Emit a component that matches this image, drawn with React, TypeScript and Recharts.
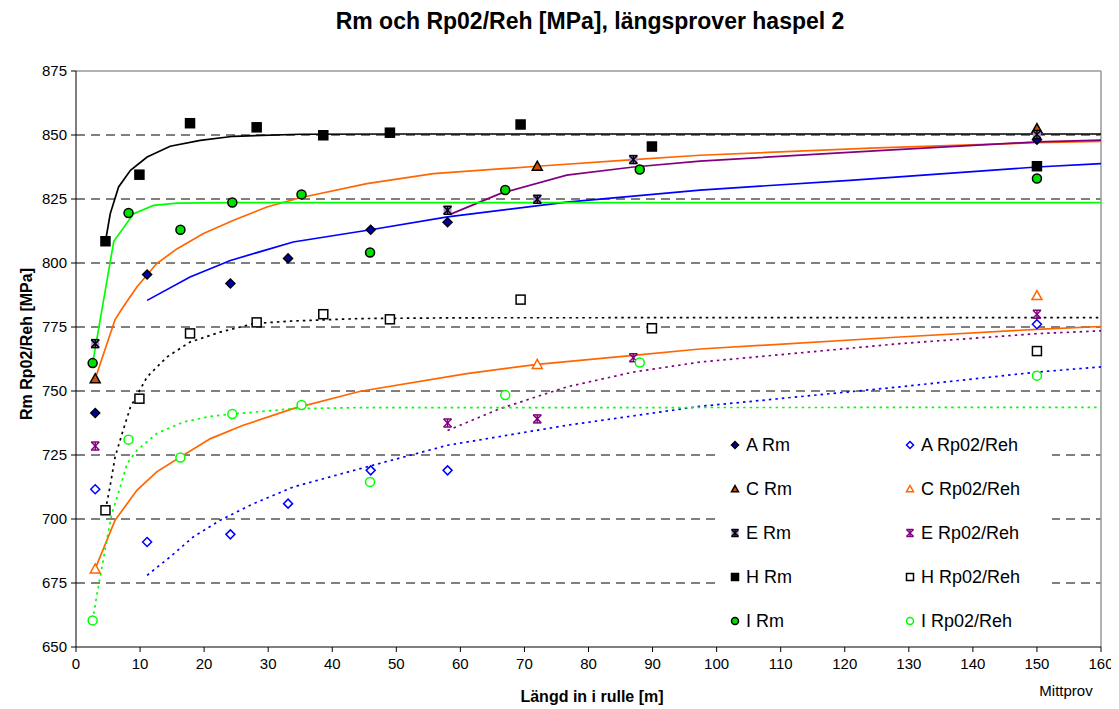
import React from "react";
import {
  ScatterChart,
  Scatter,
  XAxis,
  YAxis,
  CartesianGrid,
  ReferenceLine,
} from "recharts";

// measured positions along the coil [m], 150 = mid sample
const aX = [3, 11.1, 24.1, 33.1, 46, 58, 150];
const aRm = [741.4, 795.5, 792, 801.8, 813, 815.9, 848.2];
const aRp = [711.6, 691, 694, 706, 719, 719, 776.1];

const cX = [3, 72, 150];
const cRm = [754.8, 837.8, 852.5];
const cRp = [680.5, 760.4, 787.3];

const eX = [3, 58, 72, 87, 150];
const eRm = [768.5, 820.6, 824.9, 840.4, 850.2];
const eRp = [728.5, 737.5, 739.1, 763, 780];

const hX = [4.6, 9.9, 17.8, 28.2, 38.6, 49, 69.4, 89.9, 150];
const hRm = [808.5, 834.5, 854.6, 853, 849.9, 850.9, 854.1, 845.5, 837.8];
const hRp = [703.4, 747, 772.5, 776.8, 780, 778, 785.7, 774.5, 765.6];

const iX = [2.6, 8.2, 16.3, 24.4, 35.2, 45.9, 67, 88, 150];
const iRm = [760.9, 819.5, 813, 823.6, 826.8, 804.1, 828.5, 836.5, 833];
const iRp = [660.4, 731, 724, 741, 744.5, 714.5, 748.4, 761.1, 756];

// trend lines
const hRmTrendX = [4.6, 5.35, 6.65, 8.5, 11.1, 14.7, 19.4, 24.6, 35, 50, 160];
const hRmTrend = [808.5, 819.3, 829.7, 836.2, 841.4, 845.6, 847.9, 849.5, 850.3, 850.4, 850.4];
const iRmTrendX = [2.6, 5.9, 9, 12.1, 15.8, 24.4, 160];
const iRmTrend = [760.9, 808.5, 819.3, 822.5, 823.4, 823.6, 823.6];
const cRmTrendX = [3, 6.1, 7.2, 9.5, 12.6, 15.8, 19.9, 24.6, 29.8, 35, 45.4, 55.8, 72, 87, 97.4, 125, 150, 160];
const cRmTrend = [754.8, 777.9, 782.2, 790.6, 799.8, 805.6, 811.5, 816.7, 821.9, 825.5, 831, 834.9, 837.8, 840.4, 842.1, 845, 847, 847.5];
const eRmTrendX = [58.4, 66.2, 76.6, 87, 97.4, 126, 150, 160];
const eRmTrend = [819, 827.1, 834.3, 837.5, 839.8, 844, 847.3, 848];
const aRmTrendX = [11.1, 17.8, 24.1, 33.9, 46, 58, 76.6, 97.4, 120.8, 150, 160];
const aRmTrend = [785.4, 794.5, 801, 808.2, 813, 818, 823.8, 828.5, 832.3, 837.5, 838.8];

const hRpTrendX = [4.6, 5.3, 6.1, 7.2, 8.5, 11.1, 14.2, 17.8, 22.5, 27.7, 33.3, 44.4, 60, 160];
const hRpTrend = [703.4, 712.5, 724.2, 733.4, 743.7, 755.5, 763.3, 769.1, 773, 776.3, 777.3, 778.3, 778.6, 778.7];
const iRpTrendX = [2.6, 3.3, 4.05, 4.8, 5.6, 6.9, 7.96, 9.5, 12.6, 16.8, 21, 24.4, 33.9, 44.4, 160];
const iRpTrend = [660.4, 670.9, 681.2, 691.7, 702.1, 712.5, 721.6, 726.8, 733.4, 737.9, 740.1, 741, 743.1, 743.5, 743.6];
const cRpTrendX = [3, 6.1, 9.5, 12.6, 16.3, 21, 26.1, 33.9, 44.4, 61, 72, 87, 97.4, 128.6, 150, 160];
const cRpTrend = [680.5, 699.5, 711.2, 718.4, 724.2, 731.4, 736.6, 743.1, 749.9, 756.8, 760.4, 763.9, 766.4, 771.1, 774.1, 775.2];
const eRpTrendX = [58, 66.2, 76.6, 87, 97.4, 128.6, 150, 160];
const eRpTrend = [734.6, 743.1, 751.6, 757.4, 761.3, 768.5, 772.4, 773.5];
const aRpTrendX = [11.1, 14.7, 18.3, 22.5, 27.7, 33.9, 44.4, 58, 76.6, 97.4, 128.6, 150, 160];
const aRpTrend = [678, 685.2, 693, 699.5, 706, 712.5, 719.7, 728.8, 736.6, 744, 751.6, 757.4, 759.4];

const xTicks = [0, 10, 20, 30, 40, 50, 60, 70, 80, 90, 100, 110, 120, 130, 140, 150, 160];
const yTicks = [650, 675, 700, 725, 750, 775, 800, 825, 850, 875];
const gridValues = [675, 700, 725, 750, 775, 800, 825, 850];

const pts = (xs: number[], ys: number[]) => xs.map((x, i) => ({ x, y: ys[i] }));

const FONT = '"Liberation Sans", Arial, sans-serif';

// marker shapes
const Diamond = ({ cx, cy, fill, stroke, r = 4.5 }: any) => (
  <path
    d={`M${cx},${cy - r}L${cx + r},${cy}L${cx},${cy + r}L${cx - r},${cy}Z`}
    fill={fill}
    stroke={stroke}
    strokeWidth={1.5}
  />
);
const Triangle = ({ cx, cy, fill, stroke, r = 5 }: any) => (
  <path
    d={`M${cx},${cy - r}L${cx + r},${cy + r * 0.8}L${cx - r},${cy + r * 0.8}Z`}
    fill={fill}
    stroke={stroke}
    strokeWidth={1.5}
  />
);
const Square = ({ cx, cy, fill, stroke, r = 4.5 }: any) => (
  <rect x={cx - r} y={cy - r} width={r * 2} height={r * 2} fill={fill} stroke={stroke} strokeWidth={1.5} />
);
const Circle = ({ cx, cy, fill, stroke, r = 4.5 }: any) => (
  <circle cx={cx} cy={cy} r={r} fill={fill} stroke={stroke} strokeWidth={1.5} />
);
const Star = ({ cx, cy, stroke, bg, r = 4 }: any) => (
  <g stroke={stroke} strokeWidth={1.5}>
    {bg && <rect x={cx - r} y={cy - r} width={r * 2} height={r * 2} fill={bg} stroke="none" />}
    <line x1={cx - r} y1={cy - r} x2={cx + r} y2={cy + r} />
    <line x1={cx + r} y1={cy - r} x2={cx - r} y2={cy + r} />
    <line x1={cx} y1={cy - r} x2={cx} y2={cy + r} />
    <line x1={cx - r} y1={cy - r} x2={cx + r} y2={cy - r} />
    <line x1={cx - r} y1={cy + r} x2={cx + r} y2={cy + r} />
  </g>
);

const markers: Record<string, (p: any) => React.ReactElement> = {
  "A Rm": (p) => <Diamond {...p} fill="#0000A0" stroke="#000" />,
  "A Rp02/Reh": (p) => <Diamond {...p} fill="#fff" stroke="#0000FF" />,
  "C Rm": (p) => <Triangle {...p} fill="#D05000" stroke="#000" />,
  "C Rp02/Reh": (p) => <Triangle {...p} fill="#fff" stroke="#FF6600" />,
  "E Rm": (p) => <Star {...p} stroke="#000" bg="#B090E0" />,
  "E Rp02/Reh": (p) => <Star {...p} stroke="#800080" />,
  "H Rm": (p) => <Square {...p} fill="#000" stroke="#000" />,
  "H Rp02/Reh": (p) => <Square {...p} fill="#fff" stroke="#000" />,
  "I Rm": (p) => <Circle {...p} fill="#00E000" stroke="#000" />,
  "I Rp02/Reh": (p) => <Circle {...p} fill="#fff" stroke="#00FF00" />,
};

const pointSeries = [
  { name: "A Rm", data: pts(aX, aRm) },
  { name: "A Rp02/Reh", data: pts(aX, aRp) },
  { name: "C Rm", data: pts(cX, cRm) },
  { name: "C Rp02/Reh", data: pts(cX, cRp) },
  { name: "E Rm", data: pts(eX, eRm) },
  { name: "E Rp02/Reh", data: pts(eX, eRp) },
  { name: "H Rm", data: pts(hX, hRm) },
  { name: "H Rp02/Reh", data: pts(hX, hRp) },
  { name: "I Rm", data: pts(iX, iRm) },
  { name: "I Rp02/Reh", data: pts(iX, iRp) },
];

const DOT = "2.5 4";
const trends = [
  { data: pts(aRmTrendX, aRmTrend), color: "#0000FF" },
  { data: pts(cRmTrendX, cRmTrend), color: "#FF6600" },
  { data: pts(eRmTrendX, eRmTrend), color: "#800080" },
  { data: pts(hRmTrendX, hRmTrend), color: "#000000" },
  { data: pts(iRmTrendX, iRmTrend), color: "#00FF00" },
  { data: pts(aRpTrendX, aRpTrend), color: "#0000FF", dash: DOT },
  { data: pts(cRpTrendX, cRpTrend), color: "#FF6600" },
  { data: pts(eRpTrendX, eRpTrend), color: "#800080", dash: DOT },
  { data: pts(hRpTrendX, hRpTrend), color: "#000000", dash: DOT },
  { data: pts(iRpTrendX, iRpTrend), color: "#00FF00", dash: DOT },
];

const legendRows = [
  ["A Rm", "A Rp02/Reh"],
  ["C Rm", "C Rp02/Reh"],
  ["E Rm", "E Rp02/Reh"],
  ["H Rm", "H Rp02/Reh"],
  ["I Rm", "I Rp02/Reh"],
];

function LegendBox() {
  return (
    <div
      style={{
        position: "absolute",
        left: 710,
        top: 417,
        width: 334,
        height: 220,
        background: "#fff",
        fontFamily: FONT,
        fontSize: 18,
      }}
    >
      {legendRows.map((row, r) =>
        row.map((name, c) => (
          <div
            key={name}
            style={{
              position: "absolute",
              left: c === 0 ? 10 : 185,
              top: 20 + r * 44 - 11,
              height: 22,
              display: "flex",
              alignItems: "center",
              whiteSpace: "nowrap",
            }}
          >
            <svg width={14} height={14} style={{ marginRight: 4 }}>
              {markers[name]({ cx: 7, cy: 7, r: 3.5 })}
            </svg>
            <span>{name}</span>
          </div>
        ))
      )}
    </div>
  );
}

export default function App() {
  return (
    <div style={{ position: "relative", width: 1111, height: 701, fontFamily: FONT }}>
      <ScatterChart width={1111} height={693} margin={{ top: 63, right: 18, bottom: 24, left: 0 }}>
        <CartesianGrid horizontal vertical={false} horizontalValues={gridValues} stroke="#000" strokeDasharray="9 6" />
        <XAxis
          type="number"
          dataKey="x"
          domain={[0, 160]}
          ticks={xTicks}
          interval={0}
          height={30}
          tick={{ fontSize: 15, fill: "#000", fontFamily: FONT }}
          tickSize={5}
          tickMargin={6}
          stroke="#000"
          allowDataOverflow
        />
        <YAxis
          type="number"
          dataKey="y"
          domain={[650, 875]}
          ticks={yTicks}
          interval={0}
          width={68}
          tick={{ fontSize: 15, fill: "#000", fontFamily: FONT }}
          tickSize={5}
          tickMargin={4}
          stroke="#000"
          allowDataOverflow
        />
        <ReferenceLine y={875} stroke="#999" strokeWidth={1.5} />
        <ReferenceLine x={160} stroke="#999" strokeWidth={1.5} />
        {trends.map((t, i) => (
          <Scatter
            key={"t" + i}
            data={t.data}
            line={{ stroke: t.color, strokeWidth: 1.7, strokeDasharray: t.dash }}
            lineType="joint"
            shape={() => <g />}
            isAnimationActive={false}
            legendType="none"
          />
        ))}
        {pointSeries.map((s) => (
          <Scatter
            key={s.name}
            name={s.name}
            data={s.data}
            shape={(p: any) => markers[s.name]({ cx: p.cx, cy: p.cy })}
            isAnimationActive={false}
          />
        ))}
      </ScatterChart>
      <LegendBox />
      <div
        style={{
          position: "absolute",
          left: 582,
          top: 2,
          transform: "translateX(-50%)",
          whiteSpace: "nowrap",
          fontSize: 23,
          fontWeight: "bold",
          lineHeight: "23px",
        }}
      >
        Rm och Rp02/Reh [MPa], längsprover haspel 2
      </div>
      <div
        style={{
          position: "absolute",
          left: 19,
          top: 336,
          transform: "translate(-50%, -50%) rotate(-90deg)",
          whiteSpace: "nowrap",
          fontSize: 16,
          fontWeight: "bold",
        }}
      >
        Rm Rp02/Reh [MPa]
      </div>
      <div
        style={{
          position: "absolute",
          left: 584,
          top: 689,
          transform: "translate(-50%, -50%)",
          whiteSpace: "nowrap",
          fontSize: 16,
          fontWeight: "bold",
        }}
      >
        Längd in i rulle [m]
      </div>
      <div
        style={{
          position: "absolute",
          left: 1058,
          top: 682,
          transform: "translate(-50%, -50%)",
          whiteSpace: "nowrap",
          fontSize: 15,
        }}
      >
        Mittprov
      </div>
    </div>
  );
}
